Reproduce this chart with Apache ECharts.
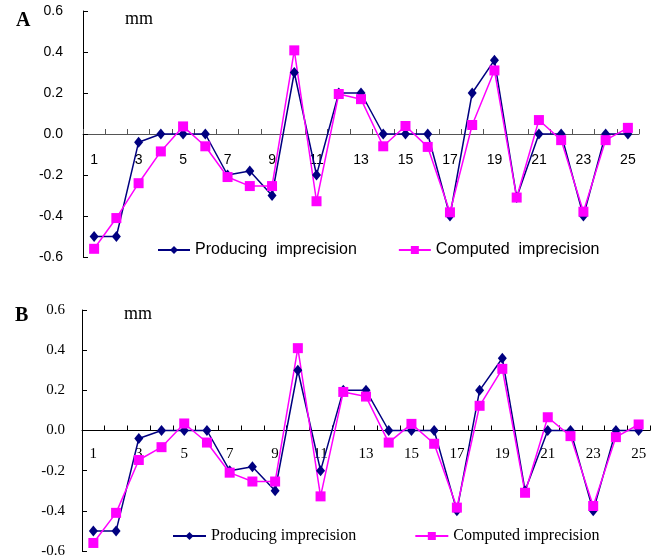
<!DOCTYPE html>
<html>
<head>
<meta charset="utf-8">
<script src="https://cdn.jsdelivr.net/npm/echarts@6/dist/echarts.min.js"></script>
<style>html,body{margin:0;padding:0;background:#fff}#c{width:659px;height:558px}</style>
</head>
<body>
<div id="c"></div>
<script>
var categories = ['1','2','3','4','5','6','7','8','9','10','11','12','13','14','15','16','17','18','19','20','21','22','23','24','25'];
var producingA = [-0.5,-0.5,-0.04,0,0,0,-0.2,-0.18,-0.3,0.3,-0.2,0.2,0.2,0,0,0,-0.4,0.2,0.36,-0.31,0,0,-0.4,0,0];
var computedA  = [-0.56,-0.41,-0.24,-0.085,0.037,-0.06,-0.21,-0.254,-0.254,0.408,-0.328,0.195,0.17,-0.06,0.039,-0.063,-0.382,0.044,0.31,-0.31,0.068,-0.03,-0.379,-0.03,0.03];
var producingB = [-0.5,-0.5,-0.04,0,0,0,-0.2,-0.18,-0.3,0.3,-0.2,0.2,0.2,0,0,0,-0.4,0.2,0.36,-0.3,0,0,-0.4,0,0];
var computedB  = [-0.56,-0.41,-0.147,-0.083,0.035,-0.06,-0.21,-0.254,-0.254,0.41,-0.328,0.192,0.169,-0.06,0.033,-0.066,-0.384,0.123,0.307,-0.31,0.066,-0.028,-0.376,-0.033,0.03];
var seriesNames = ['Producing imprecision','Computed imprecision'];

var sans = 'Liberation Sans, Arial, sans-serif';
var serif = 'Liberation Serif, Times New Roman, serif';
var navy = '#000080', pink = '#FF00FF';

var gridA = { left: 83, top: 11, width: 556, height: 246 };
var gridB = { left: 82, top: 310, width: 568, height: 241 };

function xAxis(gi, g, font, size, lineColor, margin) {
  return {
    type: 'category', gridIndex: gi, data: categories, boundaryGap: true,
    position: 'bottom', offset: -g.height / 2,
    axisLine: { onZero: false, lineStyle: { color: lineColor, width: 1 } },
    axisTick: { show: true, inside: true, interval: 0, length: 5, lineStyle: { color: lineColor } },
    axisLabel: { interval: 1, margin: margin, color: '#000', fontFamily: font, fontSize: size },
    splitLine: { show: false }
  };
}
function yAxis(gi, font, size, margin) {
  return {
    type: 'value', gridIndex: gi, min: -0.6, max: 0.6, interval: 0.2,
    axisLine: { show: true, onZero: false, lineStyle: { color: '#000', width: 1 } },
    axisTick: { show: true, inside: true, length: 5, lineStyle: { color: '#000' } },
    axisLabel: { margin: margin, color: '#000', fontFamily: font, fontSize: size,
      formatter: function (v) { return (Math.round(v * 10) / 10).toFixed(1); } },
    splitLine: { show: false }
  };
}
function line(name, gi, data, color, symbol, size) {
  return {
    name: name, type: 'line', xAxisIndex: gi, yAxisIndex: gi, data: data,
    symbol: symbol, symbolSize: size, showSymbol: true,
    lineStyle: { color: color, width: 1.5 }, itemStyle: { color: color },
    animation: false
  };
}

var chart = echarts.init(document.getElementById('c'), null, { renderer: 'canvas' });
chart.setOption({
  backgroundColor: '#fff',
  animation: false,
  title: [
    { text: 'A', left: 11, top: 6, textStyle: { fontFamily: serif, fontWeight: 'bold', fontSize: 20, color: '#000' } },
    { text: 'mm', left: 120, top: 5, textStyle: { fontFamily: serif, fontWeight: 'normal', fontSize: 18, color: '#000' } },
    { text: 'B', left: 10, top: 301, textStyle: { fontFamily: serif, fontWeight: 'bold', fontSize: 20, color: '#000' } },
    { text: 'mm', left: 119, top: 300, textStyle: { fontFamily: serif, fontWeight: 'normal', fontSize: 18, color: '#000' } }
  ],
  legend: [
    { left: 152, top: 237, itemWidth: 32, itemHeight: 10, itemGap: 41, data: seriesNames,
      textStyle: { fontFamily: sans, fontSize: 16, color: '#000' },
      formatter: function (n) { return n.replace(' ', '  '); } },
    { left: 167, top: 523, itemWidth: 33, itemHeight: 10, itemGap: 58, data: seriesNames,
      textStyle: { fontFamily: serif, fontSize: 16, color: '#000' } }
  ],
  grid: [
    Object.assign({ containLabel: false, outerBoundsMode: 'none' }, gridA),
    Object.assign({ containLabel: false, outerBoundsMode: 'none' }, gridB)
  ],
  xAxis: [xAxis(0, gridA, sans, 14, '#555', 19), xAxis(1, gridB, serif, 15, '#000', 16)],
  yAxis: [yAxis(0, sans, 14, 20), yAxis(1, serif, 15, 17)],
  series: [
    line(seriesNames[0], 0, producingA, navy, 'diamond', [9, 11]),
    line(seriesNames[1], 0, computedA, pink, 'rect', 10),
    line(seriesNames[0], 1, producingB, navy, 'diamond', [9, 11]),
    line(seriesNames[1], 1, computedB, pink, 'rect', 10)
  ]
});
</script>
</body>
</html>
